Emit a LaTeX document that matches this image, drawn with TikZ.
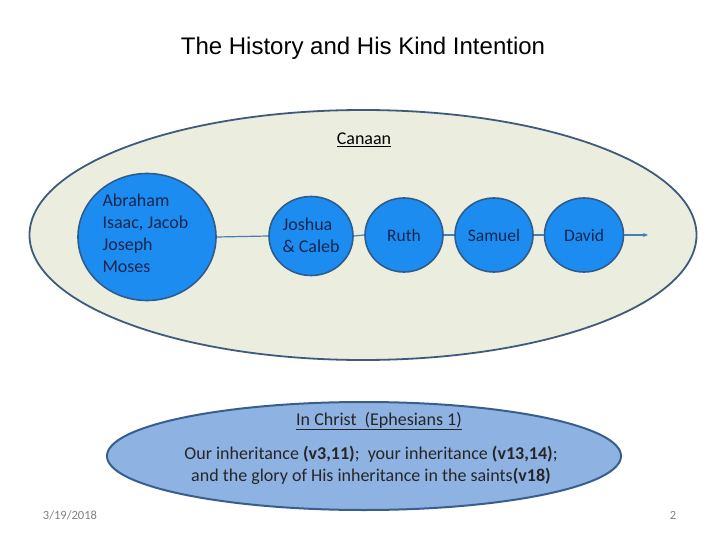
\documentclass[tikz,border=0pt]{standalone}
\usepackage{fontspec}
\setmainfont{Carlito}
\newfontfamily\titlefont{Liberation Sans}
\usetikzlibrary{shapes.geometric,arrows.meta}
\definecolor{bgfill}{HTML}{EBEEDF}
\definecolor{bgdraw}{HTML}{3F5B7C}
\definecolor{cfill}{HTML}{1C8CF0}
\definecolor{cdraw}{HTML}{2E5C8C}
\definecolor{ctext}{HTML}{16264F}
\definecolor{lfill}{HTML}{8EB2E2}
\definecolor{ldraw}{HTML}{3A5E8C}
\definecolor{conn}{HTML}{4A7DB5}
\tikzset{
  person/.style={ellipse, fill=cfill, draw=cdraw, line width=1.6pt, inner sep=0pt, text=ctext, font=\fontsize{17.5}{22}\selectfont},
  link/.style={draw=conn, line width=1.2pt},
  ptext/.style={anchor=west, align=left, text=ctext, font=\fontsize{18}{22}\selectfont},
}
\begin{document}
\begin{tikzpicture}[x=1pt,y=-1pt]
\useasboundingbox (0,0) rectangle (720,540);
\fill[white] (0,0) rectangle (720,540);
\node[font=\titlefont\fontsize{24}{28}\selectfont] (title) at (363,48) {The History and His Kind Intention};
\node[ellipse, fill=bgfill, draw=bgdraw, line width=1.8pt, minimum width=667, minimum height=250, inner sep=0pt] (canaan) at (363,235) {};
\node[font=\fontsize{18}{20}\selectfont] (canaanlbl) at (364,140) {\underline{Canaan}};
\node[person, minimum width=138, minimum height=127] (abr) at (147,237) {};
\node[ptext] (abrtxt) at (99,233) {Abraham\\Isaac, Jacob\\Joseph\\Moses};
\node[person, minimum width=84, minimum height=79] (josh) at (311,236) {};
\node[ptext] (joshtxt) at (279,235) {Joshua\\\& Caleb};
\node[person, minimum width=78, minimum height=74] (ruth) at (404,235) {Ruth};
\node[person, minimum width=78, minimum height=74] (sam) at (494,235) {Samuel};
\node[person, minimum width=79, minimum height=74] (dav) at (584,235) {David};
\coordinate (end) at (648,235);
\draw[link] (abr.east) -- (josh.west);
\draw[link] (josh.east) -- (ruth.west);
\draw[link] (ruth.east) -- (sam.west);
\draw[link] (sam.east) -- (dav.west);
\draw[link, -{Stealth[length=5pt,width=4pt]}] (dav.east) -- (end);
\node[ellipse, fill=lfill, draw=ldraw, line width=2pt, minimum width=514, minimum height=108, inner sep=0pt] (christ) at (364,456) {};
\node[font=\fontsize{18}{20}\selectfont, text=black!85] (christlbl) at (379,421) {\underline{In Christ\ \ (Ephesians 1)}};
\node[align=center, font=\fontsize{18}{22}\selectfont, text=black!85] (christtxt) at (371,465) {Our inheritance \textbf{(v3,11)};\ \ your inheritance \textbf{(v13,14)};\\and the glory of His inheritance in the saints\textbf{(v18)}};
\node[font=\fontsize{12.5}{14}\selectfont, text=gray] (date) at (70,515) {3/19/2018};
\node[font=\fontsize{12.5}{14}\selectfont, text=gray] (page) at (673,515) {2};
\end{tikzpicture}
\end{document}
